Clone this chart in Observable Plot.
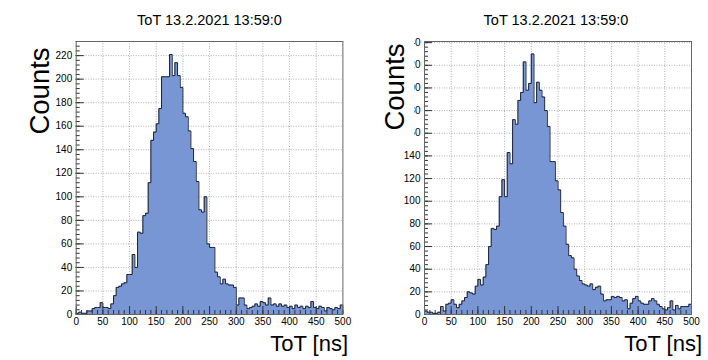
<!DOCTYPE html>
<html>
<head>
<meta charset="utf-8">
<script src="https://cdn.jsdelivr.net/npm/d3@7"></script>
<script src="https://cdn.jsdelivr.net/npm/@observablehq/plot@0.6"></script>
<style>
  body { margin: 0; background: #fff; }
  #wrap { position: relative; width: 708px; height: 360px; overflow: hidden; background: #fff; }
  #wrap svg { position: absolute; top: 0; }
</style>
</head>
<body>
<div id="wrap"></div>
<script>
// ---- data ----
const titleText = "ToT 13.2.2021 13:59:0";
const xTitle = "ToT [ns]";
const yTitle = "Counts";
const binWidth = 5;                       // ns
const binStart = d3.range(0, 500, binWidth); // 100 bins, 0..500 ns
const xMajorTicks = [0, 50, 100, 150, 200, 250, 300, 350, 400, 450, 500];
const xMinorTicks = d3.range(0, 501, 10);

const countsLeft = [
  1, 2, 1, 1, 3, 3, 5, 6, 6, 10,
  6, 6, 5, 9, 16, 23, 24, 26, 27, 34,
  34, 51, 40, 70, 69, 84, 86, 112, 148, 155,
  162, 175, 202, 202, 202, 221, 203, 214, 203, 193,
  171, 168, 156, 141, 130, 113, 89, 87, 100, 60,
  57, 57, 36, 32, 26, 30, 26, 25, 25, 23,
  8, 14, 14, 8, 5, 6, 7, 9, 7, 11,
  10, 8, 14, 8, 9, 7, 9, 7, 8, 6,
  7, 5, 8, 6, 7, 5, 7, 6, 11, 6,
  5, 7, 6, 3, 6, 5, 4, 6, 5, 8
];
const countsRight = [
  3, 2, 2, 1, 1, 2, 7, 3, 9, 10,
  13, 9, 6, 9, 12, 15, 20, 19, 18, 25,
  31, 26, 33, 44, 60, 76, 75, 78, 104, 119,
  104, 143, 133, 172, 168, 189, 196, 223, 198, 204,
  230, 187, 205, 198, 192, 180, 166, 135, 135, 118,
  110, 90, 78, 62, 52, 50, 40, 34, 30, 27,
  26, 25, 27, 22, 24, 25, 18, 12, 13, 13,
  16, 15, 16, 15, 12, 13, 5, 10, 14, 16,
  12, 10, 9, 9, 12, 14, 12, 9, 7, 5,
  4, 6, 12, 4, 8, 5, 7, 7, 7, 9
];
const yMaxLeft = 232;
const yMaxRight = 241;

// ---- style ----
const fillColor = "#7896d3";
const lineColor = "#1c2236";
const font = "'Liberation Sans', Arial, Helvetica, sans-serif";
const W = 354, H = 360, mT = 41, mB = 46;

function panel(counts, yMax, mL, mR) {
  const bins = binStart.map((x0, i) => ({x0, x1: x0 + binWidth, v: counts[i]}));
  const steps = bins.flatMap(b => [{x: b.x0, y: b.v}, {x: b.x1, y: b.v}]);
  const innerW = W - mL - mR, innerH = H - mT - mB;
  const yMajor = d3.range(0, yMax + 0.001, 20);
  const yMinor = d3.range(0, yMax + 0.001, 4);
  const gridStyle = {stroke: "#b0b0b0", strokeOpacity: 1, strokeDasharray: "1,1.5"};
  return Plot.plot({
    width: W, height: H,
    marginLeft: mL, marginRight: mR, marginTop: mT, marginBottom: mB,
    x: {domain: [0, 500]},
    y: {domain: [0, yMax]},
    style: {fontFamily: font, fontSize: "10px", color: "#000", background: "transparent", overflow: "visible"},
    marks: [
      Plot.gridX(xMajorTicks.filter(t => t > 0 && t < 500), gridStyle),
      Plot.gridY(yMajor.filter(t => t > 0), gridStyle),
      Plot.areaY(steps, {x: "x", y1: 0, y2: "y", fill: fillColor}),
      Plot.line(steps, {x: "x", y: "y", stroke: lineColor, strokeWidth: 1}),
      Plot.ruleX(xMinorTicks, {x: d => d, insetTop: innerH - 4, stroke: "#333"}),
      Plot.ruleX(xMajorTicks, {x: d => d, insetTop: innerH - 8, stroke: "#333"}),
      Plot.ruleY(yMinor, {y: d => d, insetRight: innerW - 4, stroke: "#333"}),
      Plot.ruleY(yMajor, {y: d => d, insetRight: innerW - 8, stroke: "#333"}),
      Plot.axisX({ticks: xMajorTicks, tickSize: 0, tickPadding: 3, label: null}),
      Plot.axisY({ticks: yMajor, tickSize: 0, tickPadding: 4, label: null}),
      Plot.frame({stroke: "#666"})
    ]
  });
}

const wrap = document.getElementById("wrap");
const left = panel(countsLeft, yMaxLeft, 75.7, 11.6);
left.style.left = "0px";
wrap.appendChild(left);
const right = panel(countsRight, yMaxRight, 70, 17);
right.style.left = "354px";
wrap.appendChild(right);

// ---- overlay texts (titles, axis titles) ----
const ov = d3.select(wrap).append("svg")
  .attr("width", 708).attr("height", 360)
  .style("left", "0px").style("pointer-events", "none")
  .style("font-family", font);

// white box behind the right "Counts" title (hides part of the long tick labels, as in the original)
ov.append("rect").attr("x", 377).attr("y", 36).attr("width", 37).attr("height", 108).attr("fill", "#fff");

[[209.5, 24.5], [556, 24.5]].forEach(([x, y]) =>
  ov.append("text").attr("x", x).attr("y", y).attr("text-anchor", "middle")
    .attr("font-size", 14.5).attr("fill", "#000").text(titleText));

[[49, 91], [404, 87]].forEach(([x, y]) =>
  ov.append("text").attr("transform", `translate(${x},${y}) rotate(-90)`)
    .attr("text-anchor", "middle").attr("font-size", 27.5).attr("fill", "#000").text(yTitle));

[[348, 351], [702, 351]].forEach(([x, y]) =>
  ov.append("text").attr("x", x).attr("y", y).attr("text-anchor", "end")
    .attr("font-size", 22).attr("fill", "#000").text(xTitle));
</script>
</body>
</html>
